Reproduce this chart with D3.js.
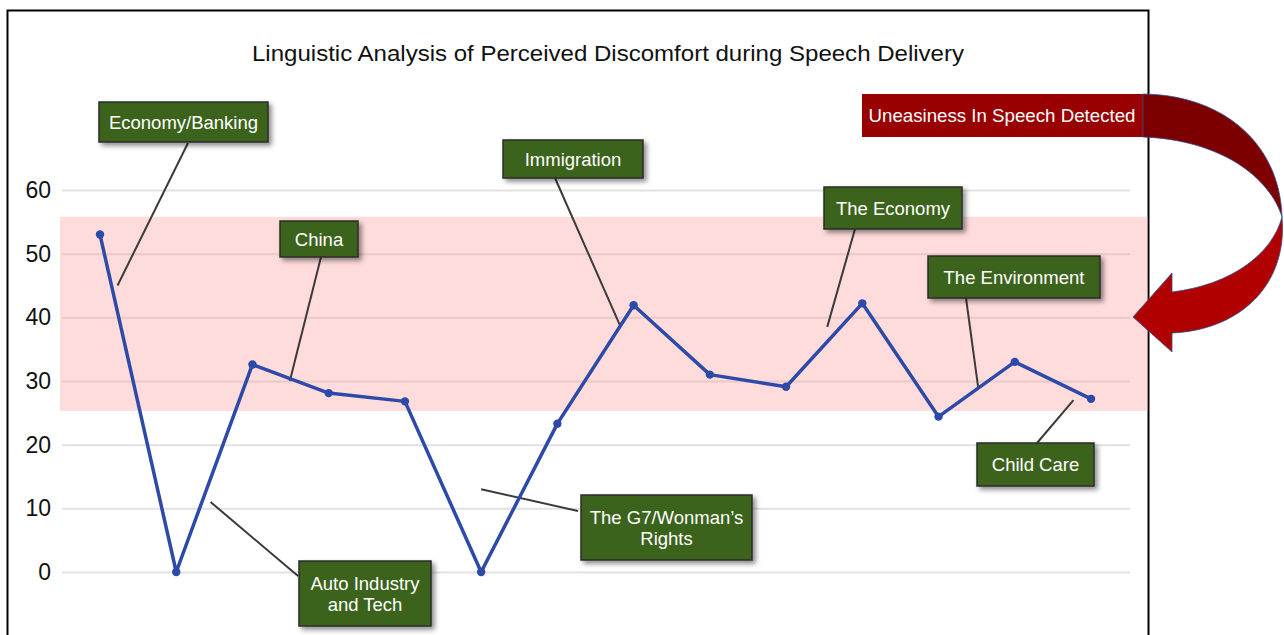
<!DOCTYPE html>
<html lang="en">
  <head>
    <meta charset="UTF-8" />
    <title>Linguistic Analysis</title>
    <style>
      html, body { margin: 0; padding: 0; background: #fff; }
      #chart { display: block; }
      text { font-family: "Liberation Sans", Arial, sans-serif; }
    </style>
  </head>
  <body>
    <svg id="chart" width="1284" height="635"></svg>

    <script src="https://d3js.org/d3.v7.min.js"></script>
    <script>
      // data
      const segments = [1, 2, 3, 4, 5, 6, 7, 8, 9, 10, 11, 12, 13, 14];
      const discomfort = [53, 0, 32.6, 28.1, 26.8, 0, 23.3, 41.9, 31, 29.1, 42.2, 24.4, 33, 27.2];
      const yTicks = [0, 10, 20, 30, 40, 50, 60];
      const bandRange = [25.3, 55.8];

      // callouts: topic text and where its leader points (segment position, value)
      const topics = ["Economy/Banking", "Auto Industry|and Tech", "China", "The G7/Wonman’s|Rights",
                      "Immigration", "The Economy", "The Environment", "Child Care"];
      const pointAt = [1.23, 2.45, 3.49, 6.0, 7.83, 10.54, 12.52, 13.77];
      const pointVal = [45, 11, 30, 13, 38.5, 38.5, 29, 27];

      const svg = d3.select("#chart");
      const x = d3.scalePoint().domain(segments).range([100, 1091]);
      const y = d3.scaleLinear().domain([0, 60]).range([572, 190]);
      const xc = d3.scaleLinear().domain([1, 14]).range([100, 1091]);

      // frame
      svg.append("rect")
        .attr("x", 7.5).attr("y", 10.5)
        .attr("width", 1141).attr("height", 640)
        .attr("fill", "#fff").attr("stroke", "#000").attr("stroke-width", 2);

      // drop shadow filter
      const defs = svg.append("defs");
      const f = defs.append("filter").attr("id", "shadow")
        .attr("x", "-20%").attr("y", "-20%").attr("width", "150%").attr("height", "160%");
      f.append("feDropShadow").attr("dx", 3).attr("dy", 3).attr("stdDeviation", 2.5)
        .attr("flood-color", "#000").attr("flood-opacity", 0.45);

      // title
      svg.append("text")
        .attr("x", 608).attr("y", 61)
        .attr("text-anchor", "middle")
        .attr("font-size", 22)
        .attr("textLength", 712)
        .attr("lengthAdjust", "spacingAndGlyphs")
        .attr("fill", "#111")
        .text("Linguistic Analysis of Perceived Discomfort during Speech Delivery");

      // y axis
      const yAxis = d3.axisLeft(y).tickValues(yTicks).tickSize(-1068).tickPadding(11);
      const ga = svg.append("g").attr("transform", "translate(62,0)").call(yAxis);
      ga.select(".domain").remove();
      ga.selectAll(".tick line").attr("stroke", "#e2e2e2").attr("stroke-width", 2);
      ga.selectAll(".tick text")
        .attr("font-size", 23).attr("fill", "#111")
        .attr("font-family", "Liberation Sans, Arial, sans-serif");

      // uneasiness band
      svg.append("rect")
        .attr("x", 60).attr("y", y(bandRange[1]))
        .attr("width", 1088).attr("height", y(bandRange[0]) - y(bandRange[1]))
        .attr("fill", "#ff9a9a").attr("opacity", 0.35);

      // callout boxes, with the point on the box where the leader attaches
      const boxes = [
        { x: 99, y: 102, w: 169, h: 40, ax: 89, ay: 41 },
        { x: 299, y: 561, w: 132, h: 65, ax: -1, ay: 15 },
        { x: 280, y: 221, w: 78, h: 36, ax: 41, ay: 36 },
        { x: 581, y: 495, w: 171, h: 65, ax: -3, ay: 16 },
        { x: 503, y: 140, w: 140, h: 38, ax: 52, ay: 38 },
        { x: 824, y: 187, w: 138, h: 42, ax: 31, ay: 42 },
        { x: 928, y: 256, w: 172, h: 42, ax: 38, ay: 42 },
        { x: 977, y: 443, w: 117, h: 43, ax: 60, ay: 0 }
      ];

      // leader lines
      topics.forEach((t, i) => {
        const b = boxes[i];
        svg.append("line")
          .attr("x1", xc(pointAt[i])).attr("y1", y(pointVal[i]))
          .attr("x2", b.x + b.ax).attr("y2", b.y + b.ay)
          .attr("stroke", "#3a3a3a").attr("stroke-width", 2);
      });

      // series line
      const line = d3.line().x((d, i) => x(segments[i])).y(d => y(d));
      svg.append("path")
        .datum(discomfort)
        .attr("d", line)
        .attr("fill", "none")
        .attr("stroke", "#2d4aa8")
        .attr("stroke-width", 3.5)
        .attr("stroke-linejoin", "round");
      svg.selectAll("circle.pt")
        .data(discomfort)
        .join("circle")
        .attr("class", "pt")
        .attr("cx", (d, i) => x(segments[i]))
        .attr("cy", d => y(d))
        .attr("r", 4.2)
        .attr("fill", "#2d4aa8");

      topics.forEach((t, i) => {
        const b = boxes[i];
        const g = svg.append("g");
        g.append("rect")
          .attr("x", b.x).attr("y", b.y).attr("width", b.w).attr("height", b.h)
          .attr("fill", "#3a631f").attr("stroke", "#2b2b2b").attr("stroke-width", 1.5)
          .attr("filter", "url(#shadow)");
        const lines = t.split("|");
        const lh = 21;
        const top = b.y + b.h / 2 - (lines.length - 1) * lh / 2 + 6.5;
        lines.forEach((s, k) => {
          g.append("text")
            .attr("x", b.x + b.w / 2).attr("y", top + k * lh)
            .attr("text-anchor", "middle")
            .attr("font-size", 18.5).attr("fill", "#fff")
            .text(s);
        });
      });

      // red label + curved arrow
      const grad = defs.append("linearGradient").attr("id", "redgrad")
        .attr("x1", 0).attr("y1", 0).attr("x2", 0).attr("y2", 1);
      grad.append("stop").attr("offset", "0%").attr("stop-color", "#7a0000");
      grad.append("stop").attr("offset", "100%").attr("stop-color", "#800000");

      svg.append("rect")
        .attr("x", 862).attr("y", 94).attr("width", 282).attr("height", 43)
        .attr("fill", "#990000");
      svg.append("text")
        .attr("x", 1002).attr("y", 122)
        .attr("text-anchor", "middle")
        .attr("font-size", 18.7).attr("fill", "#fff")
        .text("Uneasiness In Speech Detected");

      svg.append("path")
        .attr("d", "M1143,94 C1225,95 1280,145 1282,217 C1270,178 1222,140 1143,137 Z")
        .attr("fill", "url(#redgrad)")
        .attr("stroke", "#2f4f8f").attr("stroke-width", 0.8);
      svg.append("path")
        .attr("d", "M1282,217 C1288,285 1240,330 1172,333 L1172,352 L1133,317 L1172,273 L1172,292 C1230,285 1272,255 1282,217 Z")
        .attr("fill", "#b00000")
        .attr("stroke", "#2f4f8f").attr("stroke-width", 0.8);
    </script>
  </body>
</html>
